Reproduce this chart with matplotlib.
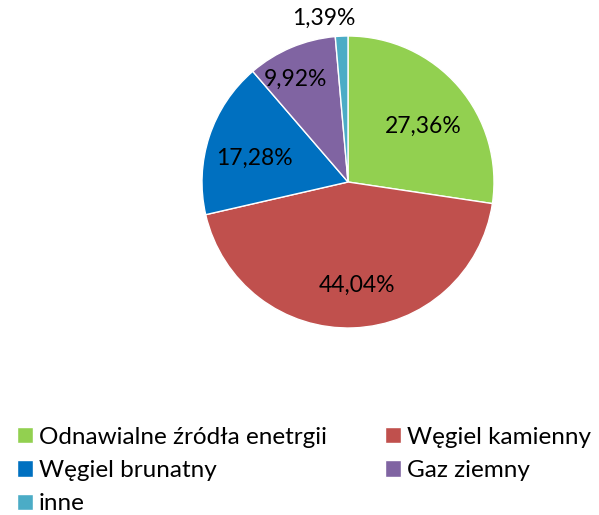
import matplotlib.pyplot as plt
import numpy as np

plt.rcParams['font.family'] = ['Lato', 'DejaVu Sans']

categories = ["Odnawialne źródła enetrgii", "Węgiel kamienny", "Węgiel brunatny",
              "Gaz ziemny", "inne"]
shares = [27.36, 44.04, 17.28, 9.92, 1.39]
colors = ["#92D050", "#C0504D", "#0070C0", "#8064A2", "#4BACC6"]
label_r = [0.64, 0.71, 0.66, 0.79, 1.13]
label_shift = [-4, 3, 4, 4, 6]  # degrees, to mimic Excel's best fit placement

fig = plt.figure(figsize=(5.99, 5.15), dpi=100)
ax = fig.add_axes([202/599, 187/515, 292/599, 292/515])

wedges, _ = ax.pie(shares, colors=colors, startangle=90, counterclock=False,
                   wedgeprops=dict(edgecolor="white", linewidth=1))
ax.set_xlim(-1, 1)
ax.set_ylim(-1, 1)
ax.set_aspect("equal")

for w, v, r, s in zip(wedges, shares, label_r, label_shift):
    ang = np.deg2rad((w.theta1 + w.theta2) / 2 + s)
    ax.text(r * np.cos(ang), r * np.sin(ang), f"{v:.2f}%".replace(".", ","),
            ha="center", va="center", fontsize=16.5, color="black", clip_on=False)

# legend is filled row by row in the reference
order = [0, 2, 4, 1, 3]
fig.legend([wedges[i] for i in order], [categories[i] for i in order],
           ncol=2, loc="upper left",
           bbox_to_anchor=(0.012, 0.19), frameon=False, fontsize=17.5,
           handlelength=0.65, handleheight=0.65, handletextpad=0.25,
           columnspacing=2.4, labelspacing=0.5, borderaxespad=0)

fig.savefig("out.png", dpi=100)
